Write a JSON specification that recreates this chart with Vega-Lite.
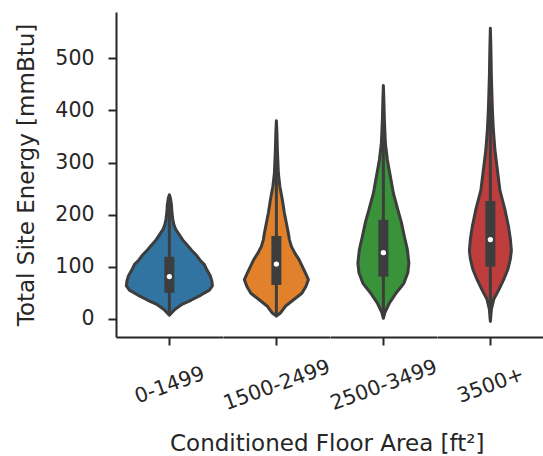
{
  "$schema": "https://vega.github.io/schema/vega-lite/v6.json",
  "padding": {"left": 15, "top": 12, "right": 0, "bottom": 0},
  "background": "white",
  "config": {"view": {"stroke": null}, "font": "DejaVu Sans",
    "axisX": {"grid": false, "tickSize": 8, "tickWidth": 2, "tickColor": "#262626", "domainColor": "#262626", "domainWidth": 2,
              "labelFontSize": 20.5, "labelColor": "#262626", "labelAngle": -20, "labelAlign": "center", "labelBaseline": "middle", "labelPadding": 40, "title": null},
    "axisY": {"grid": false, "tickSize": 8, "tickWidth": 2, "tickColor": "#262626", "domainColor": "#262626", "domainWidth": 2,
              "labelFontSize": 20.5, "labelColor": "#262626", "labelPadding": 14,
              "titleFontSize": 23, "titleFontWeight": "normal", "titleColor": "#262626", "titlePadding": 16}
  },
  "title": {"text": "Conditioned Floor Area [ft²]", "orient": "bottom", "anchor": "start", "frame": "group", "dx": 54, "fontSize": 23, "fontWeight": "normal", "color": "#262626", "offset": 19},
  "data": {"values": [
    {"kind":"v","cat":"0-1499","energy":7,"width":0},
    {"kind":"v","cat":"0-1499","energy":17,"width":10},
    {"kind":"v","cat":"0-1499","energy":27,"width":24},
    {"kind":"v","cat":"0-1499","energy":36,"width":44},
    {"kind":"v","cat":"0-1499","energy":46,"width":64},
    {"kind":"v","cat":"0-1499","energy":55,"width":80},
    {"kind":"v","cat":"0-1499","energy":63,"width":86},
    {"kind":"v","cat":"0-1499","energy":72,"width":85},
    {"kind":"v","cat":"0-1499","energy":82,"width":82},
    {"kind":"v","cat":"0-1499","energy":94,"width":75},
    {"kind":"v","cat":"0-1499","energy":104,"width":70},
    {"kind":"v","cat":"0-1499","energy":113,"width":61},
    {"kind":"v","cat":"0-1499","energy":122,"width":54},
    {"kind":"v","cat":"0-1499","energy":132,"width":44},
    {"kind":"v","cat":"0-1499","energy":141,"width":36},
    {"kind":"v","cat":"0-1499","energy":151,"width":27},
    {"kind":"v","cat":"0-1499","energy":161,"width":20},
    {"kind":"v","cat":"0-1499","energy":171,"width":13},
    {"kind":"v","cat":"0-1499","energy":181,"width":9},
    {"kind":"v","cat":"0-1499","energy":190,"width":7},
    {"kind":"v","cat":"0-1499","energy":205,"width":5},
    {"kind":"v","cat":"0-1499","energy":220,"width":4},
    {"kind":"v","cat":"0-1499","energy":232,"width":2},
    {"kind":"v","cat":"0-1499","energy":238,"width":0},
    {"kind":"v","cat":"1500-2499","energy":5,"width":0},
    {"kind":"v","cat":"1500-2499","energy":11,"width":8},
    {"kind":"v","cat":"1500-2499","energy":24,"width":18},
    {"kind":"v","cat":"1500-2499","energy":37,"width":35},
    {"kind":"v","cat":"1500-2499","energy":49,"width":51},
    {"kind":"v","cat":"1500-2499","energy":62,"width":59},
    {"kind":"v","cat":"1500-2499","energy":75,"width":64},
    {"kind":"v","cat":"1500-2499","energy":88,"width":58},
    {"kind":"v","cat":"1500-2499","energy":100,"width":52},
    {"kind":"v","cat":"1500-2499","energy":114,"width":45},
    {"kind":"v","cat":"1500-2499","energy":126,"width":37},
    {"kind":"v","cat":"1500-2499","energy":139,"width":30},
    {"kind":"v","cat":"1500-2499","energy":152,"width":26},
    {"kind":"v","cat":"1500-2499","energy":164,"width":24},
    {"kind":"v","cat":"1500-2499","energy":184,"width":20},
    {"kind":"v","cat":"1500-2499","energy":203,"width":16},
    {"kind":"v","cat":"1500-2499","energy":228,"width":12},
    {"kind":"v","cat":"1500-2499","energy":254,"width":7},
    {"kind":"v","cat":"1500-2499","energy":279,"width":4},
    {"kind":"v","cat":"1500-2499","energy":324,"width":2},
    {"kind":"v","cat":"1500-2499","energy":360,"width":1},
    {"kind":"v","cat":"1500-2499","energy":380,"width":0},
    {"kind":"v","cat":"2500-3499","energy":1,"width":0},
    {"kind":"v","cat":"2500-3499","energy":12,"width":3},
    {"kind":"v","cat":"2500-3499","energy":30,"width":12},
    {"kind":"v","cat":"2500-3499","energy":50,"width":26},
    {"kind":"v","cat":"2500-3499","energy":68,"width":41},
    {"kind":"v","cat":"2500-3499","energy":89,"width":49},
    {"kind":"v","cat":"2500-3499","energy":107,"width":51},
    {"kind":"v","cat":"2500-3499","energy":133,"width":48},
    {"kind":"v","cat":"2500-3499","energy":158,"width":42},
    {"kind":"v","cat":"2500-3499","energy":185,"width":36},
    {"kind":"v","cat":"2500-3499","energy":209,"width":29},
    {"kind":"v","cat":"2500-3499","energy":241,"width":20},
    {"kind":"v","cat":"2500-3499","energy":273,"width":14},
    {"kind":"v","cat":"2500-3499","energy":305,"width":8},
    {"kind":"v","cat":"2500-3499","energy":337,"width":4},
    {"kind":"v","cat":"2500-3499","energy":382,"width":2},
    {"kind":"v","cat":"2500-3499","energy":420,"width":1},
    {"kind":"v","cat":"2500-3499","energy":448,"width":0},
    {"kind":"v","cat":"3500+","energy":-5,"width":0},
    {"kind":"v","cat":"3500+","energy":18,"width":2},
    {"kind":"v","cat":"3500+","energy":38,"width":7},
    {"kind":"v","cat":"3500+","energy":56,"width":17},
    {"kind":"v","cat":"3500+","energy":76,"width":27},
    {"kind":"v","cat":"3500+","energy":95,"width":35},
    {"kind":"v","cat":"3500+","energy":115,"width":40},
    {"kind":"v","cat":"3500+","energy":131,"width":42},
    {"kind":"v","cat":"3500+","energy":153,"width":40},
    {"kind":"v","cat":"3500+","energy":178,"width":36},
    {"kind":"v","cat":"3500+","energy":210,"width":29},
    {"kind":"v","cat":"3500+","energy":247,"width":19},
    {"kind":"v","cat":"3500+","energy":286,"width":14},
    {"kind":"v","cat":"3500+","energy":325,"width":9},
    {"kind":"v","cat":"3500+","energy":363,"width":6},
    {"kind":"v","cat":"3500+","energy":401,"width":4},
    {"kind":"v","cat":"3500+","energy":465,"width":2},
    {"kind":"v","cat":"3500+","energy":520,"width":1},
    {"kind":"v","cat":"3500+","energy":558,"width":0},
    {"kind":"b","cat":"0-1499","q1":50,"med":81,"q3":119,"wlo":8,"whi":222},
    {"kind":"b","cat":"1500-2499","q1":65,"med":105,"q3":159,"wlo":6,"whi":300},
    {"kind":"b","cat":"2500-3499","q1":81,"med":127,"q3":190,"wlo":3,"whi":353},
    {"kind":"b","cat":"3500+","q1":100,"med":152,"q3":226,"wlo":0,"whi":415}
  ]},
  "spacing": 0,
  "bounds": "flush",
  "hconcat": [
    {
      "width": 106.75, "height": 325,
      "layer": [
        {"transform": [{"filter": "datum.kind == 'v' && datum.cat == '0-1499'"}],
         "mark": {"type": "area", "orient": "horizontal", "color": "#3274a1", "stroke": "#3d3d3d", "strokeWidth": 3, "strokeJoin": "round", "opacity": 1},
         "encoding": {
           "y": {"field": "energy", "type": "quantitative", "title": "Total Site Energy [mmBtu]", "scale": {"domain": [-35, 589], "nice": false, "zero": false}, "axis": {"values": [0,100,200,300,400,500]}},
           "x": {"field": "width", "type": "quantitative", "stack": "center", "scale": {"domain": [-10.375, 96.375], "nice": false, "zero": false}, "axis": {"values": [43], "labelExpr": "'0-1499'"}}
         }},
        {"transform": [{"filter": "datum.kind == 'b' && datum.cat == '0-1499'"}],
         "mark": {"type": "rule", "color": "#3d3d3d", "strokeWidth": 3},
         "encoding": {"x": {"datum": 43, "type": "quantitative"}, "y": {"field": "wlo", "type": "quantitative", "title": "Total Site Energy [mmBtu]"}, "y2": {"field": "whi"}}},
        {"transform": [{"filter": "datum.kind == 'b' && datum.cat == '0-1499'"}],
         "mark": {"type": "rule", "color": "#3d3d3d", "strokeWidth": 10, "strokeCap": "butt"},
         "encoding": {"x": {"datum": 43, "type": "quantitative"}, "y": {"field": "q1", "type": "quantitative", "title": "Total Site Energy [mmBtu]"}, "y2": {"field": "q3"}}},
        {"transform": [{"filter": "datum.kind == 'b' && datum.cat == '0-1499'"}],
         "mark": {"type": "point", "filled": true, "color": "white", "size": 28, "opacity": 1},
         "encoding": {"x": {"datum": 43, "type": "quantitative"}, "y": {"field": "med", "type": "quantitative", "title": "Total Site Energy [mmBtu]"}}}
      ]
    },
    {
      "width": 106.75, "height": 325,
      "layer": [
        {"transform": [{"filter": "datum.kind == 'v' && datum.cat == '1500-2499'"}],
         "mark": {"type": "area", "orient": "horizontal", "color": "#e1812c", "stroke": "#3d3d3d", "strokeWidth": 3, "strokeJoin": "round", "opacity": 1},
         "encoding": {
           "y": {"field": "energy", "type": "quantitative", "scale": {"domain": [-35, 589], "nice": false, "zero": false}, "axis": null},
           "x": {"field": "width", "type": "quantitative", "stack": "center", "scale": {"domain": [-21.375, 85.375], "nice": false, "zero": false}, "axis": {"values": [32], "labelExpr": "'1500-2499'"}}
         }},
        {"transform": [{"filter": "datum.kind == 'b' && datum.cat == '1500-2499'"}],
         "mark": {"type": "rule", "color": "#3d3d3d", "strokeWidth": 3},
         "encoding": {"x": {"datum": 32, "type": "quantitative"}, "y": {"field": "wlo", "type": "quantitative"}, "y2": {"field": "whi"}}},
        {"transform": [{"filter": "datum.kind == 'b' && datum.cat == '1500-2499'"}],
         "mark": {"type": "rule", "color": "#3d3d3d", "strokeWidth": 10, "strokeCap": "butt"},
         "encoding": {"x": {"datum": 32, "type": "quantitative"}, "y": {"field": "q1", "type": "quantitative"}, "y2": {"field": "q3"}}},
        {"transform": [{"filter": "datum.kind == 'b' && datum.cat == '1500-2499'"}],
         "mark": {"type": "point", "filled": true, "color": "white", "size": 28, "opacity": 1},
         "encoding": {"x": {"datum": 32, "type": "quantitative"}, "y": {"field": "med", "type": "quantitative"}}}
      ]
    },
    {
      "width": 106.75, "height": 325,
      "layer": [
        {"transform": [{"filter": "datum.kind == 'v' && datum.cat == '2500-3499'"}],
         "mark": {"type": "area", "orient": "horizontal", "color": "#3a923a", "stroke": "#3d3d3d", "strokeWidth": 3, "strokeJoin": "round", "opacity": 1},
         "encoding": {
           "y": {"field": "energy", "type": "quantitative", "scale": {"domain": [-35, 589], "nice": false, "zero": false}, "axis": null},
           "x": {"field": "width", "type": "quantitative", "stack": "center", "scale": {"domain": [-27.875, 78.875], "nice": false, "zero": false}, "axis": {"values": [25.5], "labelExpr": "'2500-3499'"}}
         }},
        {"transform": [{"filter": "datum.kind == 'b' && datum.cat == '2500-3499'"}],
         "mark": {"type": "rule", "color": "#3d3d3d", "strokeWidth": 3},
         "encoding": {"x": {"datum": 25.5, "type": "quantitative"}, "y": {"field": "wlo", "type": "quantitative"}, "y2": {"field": "whi"}}},
        {"transform": [{"filter": "datum.kind == 'b' && datum.cat == '2500-3499'"}],
         "mark": {"type": "rule", "color": "#3d3d3d", "strokeWidth": 10, "strokeCap": "butt"},
         "encoding": {"x": {"datum": 25.5, "type": "quantitative"}, "y": {"field": "q1", "type": "quantitative"}, "y2": {"field": "q3"}}},
        {"transform": [{"filter": "datum.kind == 'b' && datum.cat == '2500-3499'"}],
         "mark": {"type": "point", "filled": true, "color": "white", "size": 28, "opacity": 1},
         "encoding": {"x": {"datum": 25.5, "type": "quantitative"}, "y": {"field": "med", "type": "quantitative"}}}
      ]
    },
    {
      "width": 106.75, "height": 325,
      "layer": [
        {"transform": [{"filter": "datum.kind == 'v' && datum.cat == '3500+'"}],
         "mark": {"type": "area", "orient": "horizontal", "color": "#c03d3e", "stroke": "#3d3d3d", "strokeWidth": 3, "strokeJoin": "round", "opacity": 1},
         "encoding": {
           "y": {"field": "energy", "type": "quantitative", "scale": {"domain": [-35, 589], "nice": false, "zero": false}, "axis": null},
           "x": {"field": "width", "type": "quantitative", "stack": "center", "scale": {"domain": [-32.375, 74.375], "nice": false, "zero": false}, "axis": {"values": [21], "labelExpr": "'3500+'"}}
         }},
        {"transform": [{"filter": "datum.kind == 'b' && datum.cat == '3500+'"}],
         "mark": {"type": "rule", "color": "#3d3d3d", "strokeWidth": 3},
         "encoding": {"x": {"datum": 21, "type": "quantitative"}, "y": {"field": "wlo", "type": "quantitative"}, "y2": {"field": "whi"}}},
        {"transform": [{"filter": "datum.kind == 'b' && datum.cat == '3500+'"}],
         "mark": {"type": "rule", "color": "#3d3d3d", "strokeWidth": 10, "strokeCap": "butt"},
         "encoding": {"x": {"datum": 21, "type": "quantitative"}, "y": {"field": "q1", "type": "quantitative"}, "y2": {"field": "q3"}}},
        {"transform": [{"filter": "datum.kind == 'b' && datum.cat == '3500+'"}],
         "mark": {"type": "point", "filled": true, "color": "white", "size": 28, "opacity": 1},
         "encoding": {"x": {"datum": 21, "type": "quantitative"}, "y": {"field": "med", "type": "quantitative"}}}
      ]
    }
  ]
}
